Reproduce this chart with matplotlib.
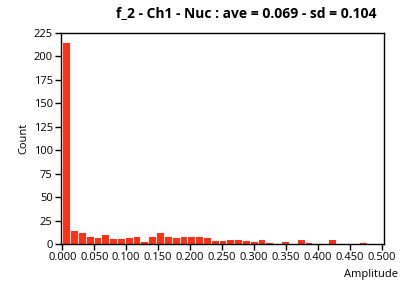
import numpy as np
import matplotlib
matplotlib.use('Agg')
import matplotlib.pyplot as plt

# histogram counts (bins of equal width from 0)
counts = [215, 15, 13, 9, 7, 11, 6, 6, 7, 9,
          3, 9, 13, 9, 7, 9, 9, 9, 7, 4,
          4, 5, 5, 4, 3, 5, 2, 1, 3, 1,
          5, 2, 1, 1, 5, 1, 1, 1, 2]
bin_start = 0.0
bin_width = 0.01222
x_ticks = [0.0, 0.05, 0.10, 0.15, 0.20, 0.25, 0.30, 0.35, 0.40, 0.45, 0.50]
y_ticks = [0, 25, 50, 75, 100, 125, 150, 175, 200, 225]
title = 'f_2 - Ch1 - Nuc : ave = 0.069 - sd = 0.104'

plt.rcParams['font.family'] = ['Open Sans', 'DejaVu Sans']

fig = plt.figure(figsize=(4.08, 2.87), dpi=100)
ax = fig.add_axes([61 / 408, 43 / 287, 323 / 408, 211 / 287])

lefts = bin_start + np.arange(len(counts)) * bin_width
ax.bar(lefts, counts, width=bin_width, align='edge',
       color='#ff3218', edgecolor='white', linewidth=0.7)

ax.set_xlim(-0.002, 0.503)
ax.set_ylim(0, 225)
ax.set_xticks(x_ticks)
ax.set_xticklabels(['%.3f' % t for t in x_ticks])
ax.set_yticks(y_ticks)
ax.tick_params(direction='out', length=4, width=1, labelsize=8, pad=2,
               colors='black')
for sp in ax.spines.values():
    sp.set_linewidth(1.0)
    sp.set_color('black')

ax.set_ylabel('Count', fontsize=8)
ax.yaxis.set_label_coords(-0.097, 0.5)
fig.text(398 / 408, 1 - 275 / 287, 'Amplitude', fontsize=8,
         ha='right', va='center')
fig.text(246 / 408, 1 - 13 / 287, title, fontsize=10, fontweight='bold',
         ha='center', va='center')

fig.savefig('out.png', dpi=100)
